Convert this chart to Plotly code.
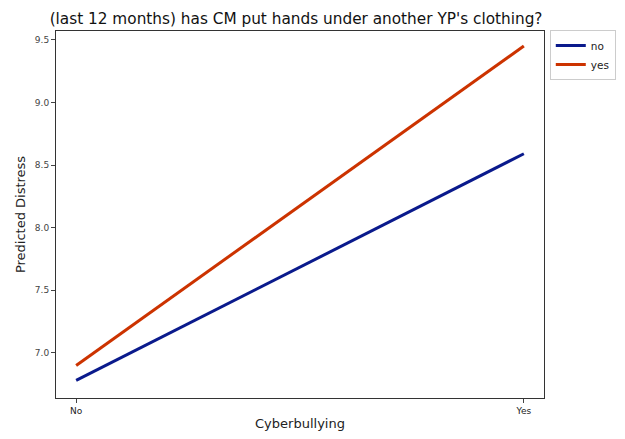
import plotly.graph_objects as go

categories = ["No", "Yes"]
x_pos = [0, 1]
no_vals = [6.78, 8.59]
yes_vals = [6.90, 9.45]
y_ticks = [7.0, 7.5, 8.0, 8.5, 9.0, 9.5]

# page body has an 8px default margin on each side, so the figure is sized to fit the window
W, H = 609, 423

fig = go.Figure()
fig.add_trace(go.Scatter(x=x_pos, y=no_vals, mode="lines", name="no",
                         line=dict(color="#0a1a8c", width=3)))
fig.add_trace(go.Scatter(x=x_pos, y=yes_vals, mode="lines", name="yes",
                         line=dict(color="#cc3300", width=3)))

fig.update_layout(
    width=W, height=H,
    margin=dict(l=48, r=73, t=23, b=33, autoexpand=False),
    paper_bgcolor="white", plot_bgcolor="white",
    font=dict(family="DejaVu Sans", color="#222"),
    title=dict(text="(last 12 months) has CM put hands under another YP's clothing?",
               x=0.473, xanchor="center", y=0.974, yanchor="middle",
               font=dict(size=15.3, color="#111")),
    showlegend=True,
    legend=dict(xref="container", yref="container", x=0.998, y=0.948,
                xanchor="right", yanchor="top", itemwidth=30,
                bordercolor="#ccc", borderwidth=1, font=dict(size=10.5),
                tracegroupgap=0),
)
fig.update_xaxes(range=[-0.045, 1.045], tickvals=x_pos, ticktext=categories,
                 automargin=False,
                 showgrid=False, zeroline=False, showline=True, mirror=True,
                 linecolor="#333", linewidth=1, ticks="outside", ticklen=4,
                 tickfont=dict(size=9),
                 title=dict(text="Cyberbullying", font=dict(size=13), standoff=6))
fig.update_yaxes(range=[6.64, 9.57], tickvals=y_ticks,
                 ticktext=[f"{v:.1f}" for v in y_ticks],
                 automargin=False,
                 showgrid=False, zeroline=False, showline=True, mirror=True,
                 linecolor="#333", linewidth=1, ticks="outside", ticklen=4,
                 tickfont=dict(size=9, color="#444"),
                 title=dict(text="Predicted Distress", font=dict(size=13), standoff=6))

fig.write_html("out.html")
